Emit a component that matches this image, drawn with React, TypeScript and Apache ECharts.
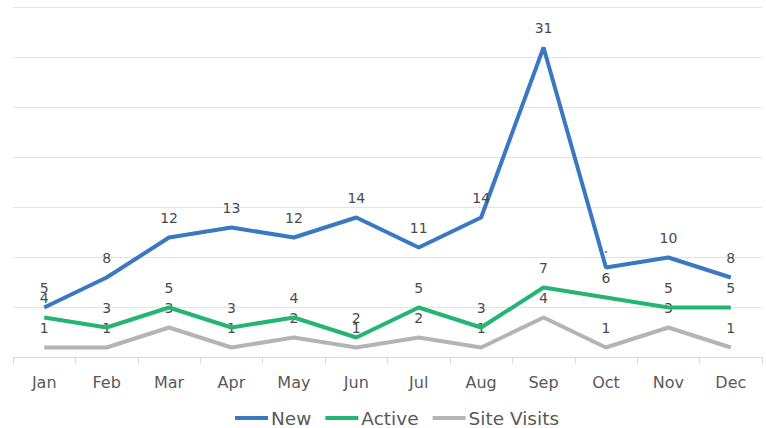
import React, { useEffect, useRef } from "react";
import * as echarts from "echarts";

const months = ["Jan", "Feb", "Mar", "Apr", "May", "Jun", "Jul", "Aug", "Sep", "Oct", "Nov", "Dec"];
const newValues = [5, 8, 12, 13, 12, 14, 11, 14, 31, 9, 10, 8];
const newLabels = ["5", "8", "12", "13", "12", "14", "11", "14", "31", ".", "10", "8"];
const activeValues = [4, 3, 5, 3, 4, 2, 5, 3, 7, 6, 5, 5];
const siteVisitValues = [1, 1, 3, 1, 2, 1, 2, 1, 4, 1, 3, 1];

const FONT = "'DejaVu Sans', sans-serif";

export default function App() {
  const ref = useRef<HTMLDivElement>(null);
  useEffect(() => {
    if (!ref.current) return;
    const chart = echarts.init(ref.current, undefined, { renderer: "svg" });
    const labelStyle = {
      show: true,
      position: "top" as const,
      distance: 13,
      fontSize: 14,
      color: "#4a4a4a",
      fontFamily: FONT,
    };
    const common = {
      type: "line" as const,
      symbol: "circle",
      symbolSize: 0,
      showSymbol: true,
      label: labelStyle,
    };
    chart.setOption({
      animation: false,
      textStyle: { fontFamily: FONT },
      grid: { left: 13, right: 4, top: 7.5, bottom: 70.5, containLabel: false },
      legend: {
        left: 230,
        top: 402,
        itemWidth: 33,
        itemHeight: 4,
        itemGap: 14,
        icon: "rect",
        textStyle: { fontSize: 18.5, color: "#595959", fontFamily: FONT, padding: [0, 0, 0, -2], lineHeight: 22 },
        data: ["New", "Active", "Site Visits"],
      },
      xAxis: {
        type: "category",
        data: months,
        boundaryGap: true,
        axisLine: { lineStyle: { color: "#d9d9d9", width: 1 } },
        axisTick: { show: true, length: 6, lineStyle: { color: "#d9d9d9" } },
        axisLabel: { fontSize: 16, color: "#595959", margin: 17, fontFamily: FONT },
      },
      yAxis: {
        type: "value",
        min: 0,
        max: 35,
        interval: 5,
        axisLabel: { show: false },
        axisLine: { show: false },
        axisTick: { show: false },
        splitLine: { lineStyle: { color: "#e3e3e3", width: 1 } },
      },
      series: [
        {
          ...common,
          name: "New",
          data: newValues.map((v, i) => ({ value: v, label: { formatter: newLabels[i] } })),
          lineStyle: { color: "#3a78c2", width: 4 },
          itemStyle: { color: "#3a78c2" },
          z: 3,
        },
        {
          ...common,
          name: "Active",
          data: activeValues,
          lineStyle: { color: "#24b573", width: 4 },
          itemStyle: { color: "#24b573" },
          z: 2,
        },
        {
          ...common,
          name: "Site Visits",
          data: siteVisitValues,
          lineStyle: { color: "#b4b4b6", width: 4 },
          itemStyle: { color: "#b4b4b6" },
          z: 1,
        },
      ],
    });
    return () => chart.dispose();
  }, []);
  return <div ref={ref} style={{ width: 766, height: 428, position: "absolute", left: 0, top: 0 }} />;
}
